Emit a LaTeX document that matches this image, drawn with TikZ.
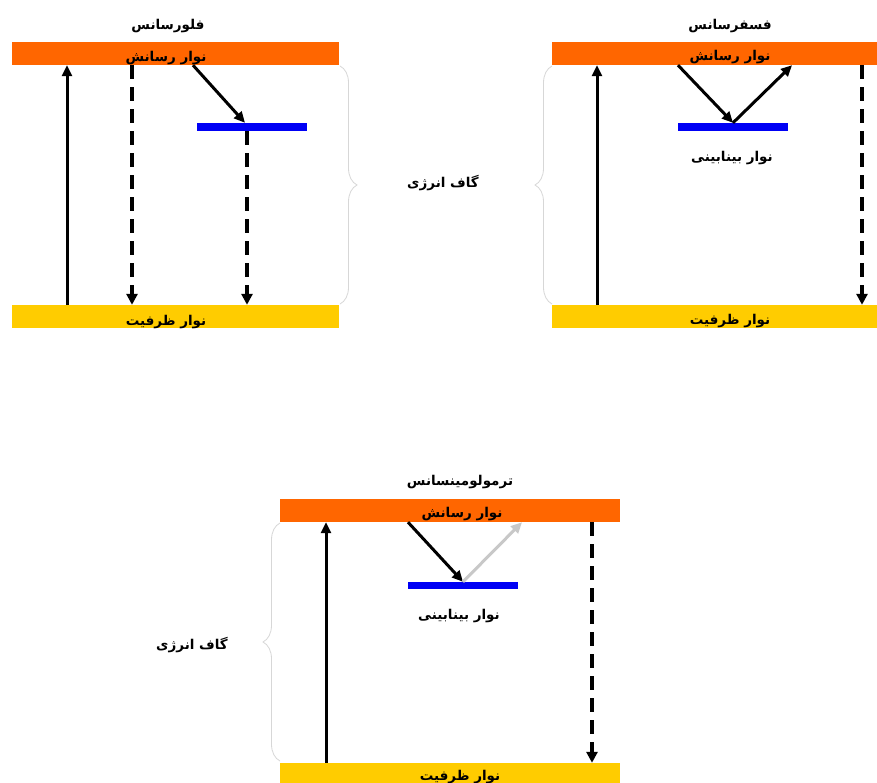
\documentclass[tikz,border=0pt]{standalone}
\usepackage{fontspec}
\newfontfamily\fa[Script=Arabic]{DejaVu Sans}
\TeXXeTstate=1
\usetikzlibrary{decorations.pathreplacing,arrows.meta}
\definecolor{corange}{RGB}{255,102,0}
\definecolor{cyellow}{RGB}{255,204,0}
\definecolor{cblue}{RGB}{0,0,245}
\definecolor{cgray}{RGB}{200,200,200}
\definecolor{cbrace}{RGB}{215,215,215}
\tikzset{
  band/.style={draw=none, inner sep=0pt, minimum height=23pt, rectangle},
  cband/.style={band, fill=corange},
  vband/.style={band, fill=cyellow},
  iband/.style={draw=none, inner sep=0pt, minimum height=8pt, minimum width=110pt, fill=cblue},
  lbl/.style={font=\fa\bfseries\fontsize{13.5}{15}\selectfont, inner sep=0pt},
  solidarr/.style={line width=3pt, -{Triangle[length=11pt,width=10pt]}},
  grayarr/.style={solidarr, draw=cgray},
  dasharr/.style={line width=3.5pt, dash pattern=on 14pt off 8pt, -{Triangle[length=11pt,width=11pt]}},
  gapbrace/.style={draw=cbrace, line width=0.8pt, decorate, decoration={brace, amplitude=17pt}},
}
\begin{document}
\begin{tikzpicture}[x=1pt,y=-1pt]
\clip (0,0) rectangle (877,783);
\fill[white] (0,0) rectangle (877,783);
% ---------- panel 1 : fluorescence ----------
\node[cband, minimum width=327pt] (c1) at (175.5,53.5) {};
\node[vband, minimum width=327pt] (v1) at (175.5,316.5) {};
\node[iband] (b1) at (251.5,127) {};
\node[lbl] (t1) at (168,26) {\beginR فلورسانس\endR};
\node[lbl] (cl1) at (166,58) {\beginR نوار رسانش\endR};
\node[lbl] (vl1) at (166,322) {\beginR نوار ظرفیت\endR};
\coordinate (x1a) at (67,0);
\coordinate (x1b) at (132,0);
\coordinate (x1c) at (193,0);
\coordinate (x1d) at (245,0);
\coordinate (x1e) at (247,0);
\draw[solidarr] (v1.north -| x1a) -- (c1.south -| x1a);
\draw[dasharr] (c1.south -| x1b) -- (v1.north -| x1b);
\draw[solidarr] (c1.south -| x1c) -- (b1.north -| x1d);
\draw[dasharr] (b1.south -| x1e) -- (v1.north -| x1e);
\draw[gapbrace] (340,66) -- (340,304);
% ---------- panel 2 : phosphorescence ----------
\node[cband, minimum width=325pt] (c2) at (714.5,53.5) {};
\node[vband, minimum width=325pt] (v2) at (714.5,316.5) {};
\node[iband] (b2) at (733,127) {};
\node[lbl] (t2) at (730,26) {\beginR فسفرسانس\endR};
\node[lbl] (cl2) at (730,57) {\beginR نوار رسانش\endR};
\node[lbl] (il2) at (732,158) {\beginR نوار بینابینی\endR};
\node[lbl] (vl2) at (730,321) {\beginR نوار ظرفیت\endR};
\node[lbl] (g1) at (443,183) {\beginR گاف انرژی\endR};
\coordinate (x2a) at (597,0);
\coordinate (x2b) at (678,0);
\coordinate (x2c) at (792,0);
\coordinate (x2d) at (862,0);
\draw[solidarr] (v2.north -| x2a) -- (c2.south -| x2a);
\draw[solidarr] (c2.south -| x2b) -- (b2.north);
\draw[solidarr] (b2.north) -- (c2.south -| x2c);
\draw[dasharr] (c2.south -| x2d) -- (v2.north -| x2d);
\draw[gapbrace] (552,304) -- (552,66);
% ---------- panel 3 : thermoluminescence ----------
\node[cband, minimum width=340pt] (c3) at (450,510.5) {};
\node[vband, minimum width=340pt] (v3) at (450,774.5) {};
\node[iband, minimum height=7pt] (b3) at (463,585.5) {};
\node[lbl] (t3) at (460,482) {\beginR ترمولومینسانس\endR};
\node[lbl] (cl3) at (462,514) {\beginR نوار رسانش\endR};
\node[lbl] (il3) at (459,616) {\beginR نوار بینابینی\endR};
\node[lbl] (vl3) at (460,777) {\beginR نوار ظرفیت\endR};
\node[lbl] (g2) at (192,645) {\beginR گاف انرژی\endR};
\coordinate (x3a) at (326,0);
\coordinate (x3b) at (408,0);
\coordinate (x3c) at (522,0);
\coordinate (x3d) at (592,0);
\draw[solidarr] (v3.north -| x3a) -- (c3.south -| x3a);
\draw[solidarr] (c3.south -| x3b) -- (b3.north);
\draw[grayarr] (b3.north) -- (c3.south -| x3c);
\draw[dasharr] (c3.south -| x3d) -- (v3.north -| x3d);
\draw[gapbrace] (280,761) -- (280,523);
\end{tikzpicture}
\end{document}
